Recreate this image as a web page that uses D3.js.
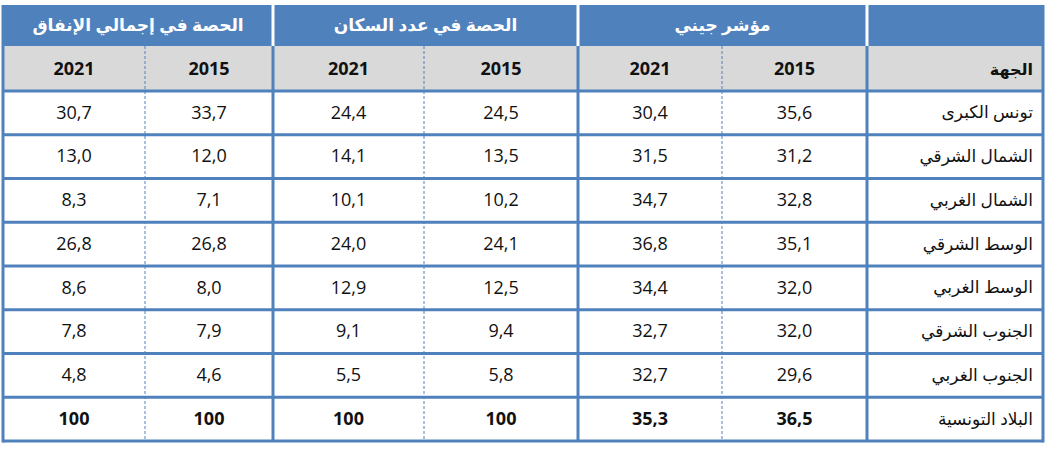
<!DOCTYPE html>
<html lang="ar">
  <head>
    <meta charset="utf-8" />
    <script src="https://cdn.jsdelivr.net/npm/d3@7/dist/d3.min.js"></script>
    <style>
      body { margin: 0; background: #fff; }
      text { font-family: "Open Sans", "DejaVu Sans", sans-serif; }
    </style>
  </head>
  <body>
    <div id="container"></div>
    <script>
      // data
      const regions = ["تونس الكبرى", "الشمال الشرقي", "الشمال الغربي", "الوسط الشرقي", "الوسط الغربي", "الجنوب الشرقي", "الجنوب الغربي", "البلاد التونسية"];
      const gini2015 = [35.6, 31.2, 32.8, 35.1, 32.0, 32.0, 29.6, 36.5];
      const gini2021 = [30.4, 31.5, 34.7, 36.8, 34.4, 32.7, 32.7, 35.3];
      const pop2015 = [24.5, 13.5, 10.2, 24.1, 12.5, 9.4, 5.8, 100];
      const pop2021 = [24.4, 14.1, 10.1, 24.0, 12.9, 9.1, 5.5, 100];
      const spend2015 = [33.7, 12.0, 7.1, 26.8, 8.0, 7.9, 4.6, 100];
      const spend2021 = [30.7, 13.0, 8.3, 26.8, 8.6, 7.8, 4.8, 100];
      const groups = ["مؤشر جيني", "الحصة في عدد السكان", "الحصة في إجمالي الإنفاق"];
      const years = ["2015", "2021"];
      const labelHead = "الجهة";

      const width = 1050, height = 455;
      const blue = "#4f81bd", grey = "#d9d9d9";

      const svg = d3.select("#container").append("svg").attr("width", width).attr("height", height);

      // columns, right to left
      const cols = ["label", "g15", "g21", "p15", "p21", "s15", "s21"];
      const colVals = { g15: gini2015, g21: gini2021, p15: pop2015, p21: pop2021, s15: spend2015, s21: spend2021 };
      const colLeft = d3.scaleOrdinal().domain(cols).range([867, 722, 578, 424, 273, 145, 3]);
      const colRight = d3.scaleOrdinal().domain(cols).range([1043, 867, 722, 578, 424, 273, 145]);
      const cx = c => (colLeft(c) + colRight(c)) / 2;

      const y = d3.scaleBand().domain(regions).range([91, 441]);
      const yTop = 5, yMid = 46, headBottom = 91;

      const fmt = v => (v === 100 ? "100" : d3.format(".1f")(v).replace(".", ","));

      // header band
      svg.append("rect").attr("x", 3).attr("y", yTop).attr("width", 1040).attr("height", yMid - yTop).attr("fill", blue);
      svg.append("rect").attr("x", 3).attr("y", yMid).attr("width", 1040).attr("height", headBottom - yMid).attr("fill", grey);

      // group titles
      const groupCols = [["g15", "g21"], ["p15", "p21"], ["s15", "s21"]];
      groups.forEach((g, i) => {
        const [a, b] = groupCols[i];
        svg.append("text")
          .attr("x", (colRight(a) + colLeft(b)) / 2).attr("y", (yTop + yMid) / 2 + 1)
          .attr("text-anchor", "middle").attr("dominant-baseline", "middle")
          .attr("fill", "#fff").attr("font-weight", "bold").attr("font-size", 17)
          .text(g);
      });

      // year headers
      cols.slice(1).forEach((c, i) => {
        svg.append("text")
          .attr("x", cx(c)).attr("y", (yMid + headBottom) / 2 + 2)
          .attr("text-anchor", "middle").attr("dominant-baseline", "middle")
          .attr("font-weight", "bold").attr("font-size", 18).attr("fill", "#111")
          .text(years[i % 2]);
      });
      svg.append("text")
        .attr("x", colRight("label") - 10).attr("y", (yMid + headBottom) / 2 + 2)
        .attr("text-anchor", "end").attr("dominant-baseline", "middle")
        .attr("font-weight", "bold").attr("font-size", 16).attr("fill", "#111")
        .text(labelHead);

      // body
      const rows = svg.append("g").selectAll("g").data(regions).join("g")
        .attr("transform", d => `translate(0,${y(d) + y.bandwidth() / 2 + 1})`);

      rows.append("text")
        .attr("x", colRight("label") - 10)
        .attr("text-anchor", "end").attr("dominant-baseline", "middle")
        .attr("font-size", 17).attr("fill", "#111")
        .text(d => d);

      cols.slice(1).forEach(c => {
        rows.append("text")
          .attr("x", cx(c))
          .attr("text-anchor", "middle").attr("dominant-baseline", "middle")
          .attr("font-size", 18).attr("fill", "#111")
          .attr("font-weight", (d, i) => (i === regions.length - 1 ? "bold" : "normal"))
          .text((d, i) => fmt(colVals[c][i]));
      });

      // dashed lines between the two years of a group
      ["g21", "p21", "s21"].forEach(c => {
        svg.append("line")
          .attr("x1", colRight(c)).attr("x2", colRight(c)).attr("y1", yMid).attr("y2", 441)
          .attr("stroke", blue).attr("stroke-width", 1).attr("stroke-dasharray", "3,2");
      });

      // horizontal lines
      const hLines = [headBottom].concat(regions.map(r => y(r) + y.bandwidth()));
      hLines.forEach(v => {
        svg.append("line").attr("x1", 3).attr("x2", 1043).attr("y1", v).attr("y2", v)
          .attr("stroke", blue).attr("stroke-width", 3);
      });

      // solid verticals
      [3, 1043].forEach(v => {
        svg.append("line").attr("x1", v).attr("x2", v).attr("y1", yTop).attr("y2", 442.5)
          .attr("stroke", blue).attr("stroke-width", 3);
      });
      [colLeft("label"), colLeft("g21"), colLeft("p21")].forEach(v => {
        svg.append("line").attr("x1", v).attr("x2", v).attr("y1", yMid).attr("y2", 441)
          .attr("stroke", blue).attr("stroke-width", 3);
        svg.append("line").attr("x1", v).attr("x2", v).attr("y1", yTop).attr("y2", yMid)
          .attr("stroke", "#fff").attr("stroke-width", 3);
      });
    </script>
  </body>
</html>
